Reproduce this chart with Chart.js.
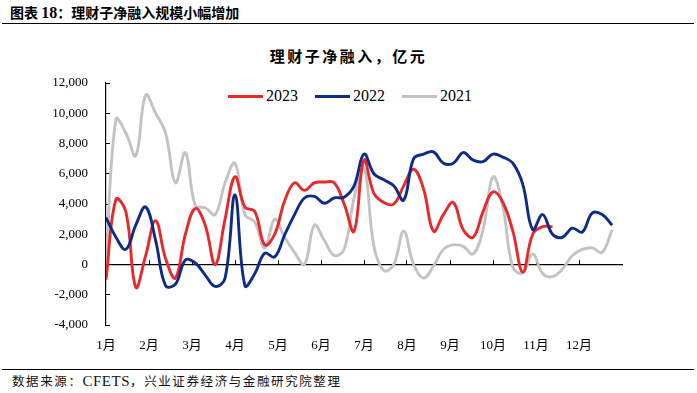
<!DOCTYPE html>
<html>
<head>
<meta charset="utf-8">
<script src="https://cdn.jsdelivr.net/npm/chart.js@4"></script>
<style>
    body { margin: 0; background: #fff; }
    #page { position: relative; width: 697px; height: 393px; overflow: hidden; font-family: 'Noto Sans CJK SC', sans-serif; }
    .abs { position: absolute; white-space: nowrap; }
    #hdr { left: 10px; top: 2px; font-size: 14px; font-weight: bold; line-height: 20px; }
    #hdr .num { font-family: 'Liberation Serif', serif; font-size: 16px; }
    .rule { position: absolute; left: 2px; width: 692px; border-top: 1.5px solid #000; }
    #title { left: 0; width: 697px; top: 46px; text-align: center; font-size: 15px; font-weight: bold; letter-spacing: 2.5px; line-height: 20px; }
    .lg { position: absolute; top: 95px; height: 3px; width: 35px; }
    .lt { position: absolute; top: 86px; font-family: 'Liberation Serif', serif; font-size: 16px; line-height: 20px; }
    #src { left: 12px; top: 372px; font-size: 12.5px; letter-spacing: 1.6px; line-height: 18px; color: #111; }
    #src .en { font-family: 'Liberation Serif', serif; font-size: 15px; letter-spacing: 0.5px; }
    #wrap { position: absolute; left: 0; top: 28px; width: 697px; height: 335px; }
</style>
</head>
<body>
<div id="page">
    <div id="hdr" class="abs">图表 <span class="num">18</span>：理财子净融入规模小幅增加</div>
    <div class="rule" style="top:23px"></div>
    <div id="title" class="abs">理财子净融入，亿元</div>

    <div class="lg" style="left:228px;background:#e8282b"></div>
    <div class="lt" style="left:266px">2023</div>
    <div class="lg" style="left:315px;background:#0d2c87"></div>
    <div class="lt" style="left:353px">2022</div>
    <div class="lg" style="left:402px;background:#c3c3c3"></div>
    <div class="lt" style="left:440px">2021</div>

    <div id="wrap"><canvas id="myChart" width="697" height="335"></canvas></div>

    <div class="rule" style="top:369px;border-top-width:1px"></div>
    <div id="src" class="abs">数据来源：<span class="en">CFETS</span>，兴业证券经济与金融研究院整理</div>
</div>

<script>
// weekly net inflow of wealth-management subsidiaries (100m yuan), week 0 = first week of Jan
const months = ['1月', '2月', '3月', '4月', '5月', '6月', '7月', '8月', '9月', '10月', '11月', '12月'];
const weeksPerYear = 52;

const y2023 = [
    -1000, 4300, 3500, -1500, 600, 2900, 400, -900, 2000, 3700,
    2600, 0, 3000, 5800, 3800, 3500, 1300, 2000, 4200, 5400,
    4900, 5400, 5450, 5400, 4000, 2200, 6900, 4700, 4100, 4000,
    5200, 6300, 5000, 2200, 3300, 4100, 2300, 1800, 3500, 4800,
    4100, 2200, -500, 2000, 2500, 2500
];
const y2022 = [
    3100, 1800, 1000, 2600, 3800, 1600, -1400, -1300, 300, 100,
    -700, -1450, -900, 4600, -1400, -600, 750, 500, 1950, 3300,
    4400, 4500, 4050, 4400, 4450, 5200, 7300, 6000, 5600, 5200,
    4250, 7000, 7300, 7450, 6700, 6700, 7400, 6900, 6800, 7300,
    7100, 6700, 5300, 2300, 3300, 2000, 1800, 2400, 2150, 3400,
    3300, 2600
];
const y2021 = [
    0, 9600, 8700, 7200, 11200, 10000, 8700, 5400, 7400, 3900,
    3750, 3300, 5400, 6700, 3300, 2800, 1100, 3000, 1800, 800,
    0, 2600, 1600, 600, 1000, 4400, 6400, 1200, -400, 0,
    2200, 0, -900, -100, 1000, 1300, 1200, 700, 2300, 5800,
    3800, -200, -550, 700, -600, -800, -300, 600, 1000, 1100,
    800, 2300
];
const yTicks = { min: -4000, max: 12000, step: 2000 };

const toPoints = (arr) => arr.map((v, i) => ({ x: i, y: v }));
const monthTicks = (from, to) => {
    let t = [];
    for (let m = from; m <= to; m++) t.push({ value: m * weeksPerYear / 12 });
    return t;
};

const serif = "'Liberation Serif', 'Noto Sans CJK SC', serif";

const lineSet = (label, arr, color, order) => ({
    label: label,
    data: toPoints(arr),
    borderColor: color,
    backgroundColor: color,
    borderWidth: 2.9,
    pointRadius: 0,
    tension: 0.4,
    order: order,
});

const ctx = document.getElementById('myChart').getContext('2d');
new Chart(ctx, {
    type: 'line',
    data: {
        datasets: [
            lineSet('2023', y2023, '#e8282b', 1),
            lineSet('2022', y2022, '#0d2c87', 0),
            lineSet('2021', y2021, '#c3c3c3', 2),
        ],
    },
    options: {
        responsive: false,
        animation: false,
        layout: { padding: { top: 55, right: 75, left: 0, bottom: 0 } },
        plugins: {
            legend: { display: false },
            title: { display: false },
            tooltip: { enabled: false },
        },
        scales: {
            x: {
                type: 'linear',
                position: 'bottom',
                min: 0,
                max: weeksPerYear,
                afterBuildTicks: (scale) => { scale.ticks = monthTicks(0, 11); },
                afterFit: (scale) => { scale.height = 38; },
                grid: { display: false, drawTicks: false },
                border: { display: false },
                ticks: {
                    autoSkip: false,
                    maxRotation: 0,
                    padding: 13,
                    color: '#000',
                    font: { family: serif, size: 13 },
                    callback: (value, index) => months[index],
                },
            },
            x2: {
                type: 'linear',
                axis: 'x',
                position: { y: 0 },
                min: 0,
                max: weeksPerYear,
                afterBuildTicks: (scale) => { scale.ticks = monthTicks(1, 11); },
                grid: { display: true, drawOnChartArea: false, drawTicks: true, tickLength: -5, color: '#000', lineWidth: 1 },
                border: { display: true, color: '#000', width: 1.2 },
                ticks: { display: false },
            },
            y: {
                min: yTicks.min,
                max: yTicks.max,
                afterFit: (scale) => { scale.width = 106; },
                grid: { display: true, drawOnChartArea: false, drawTicks: true, tickLength: -4, color: '#000', lineWidth: 1 },
                border: { display: true, color: '#000', width: 1.2 },
                ticks: {
                    stepSize: yTicks.step,
                    padding: 22,
                    color: '#000',
                    font: { family: serif, size: 13 },
                    callback: (v) => v.toLocaleString('en-US'),
                },
            },
        },
    },
});
</script>
</body>
</html>
